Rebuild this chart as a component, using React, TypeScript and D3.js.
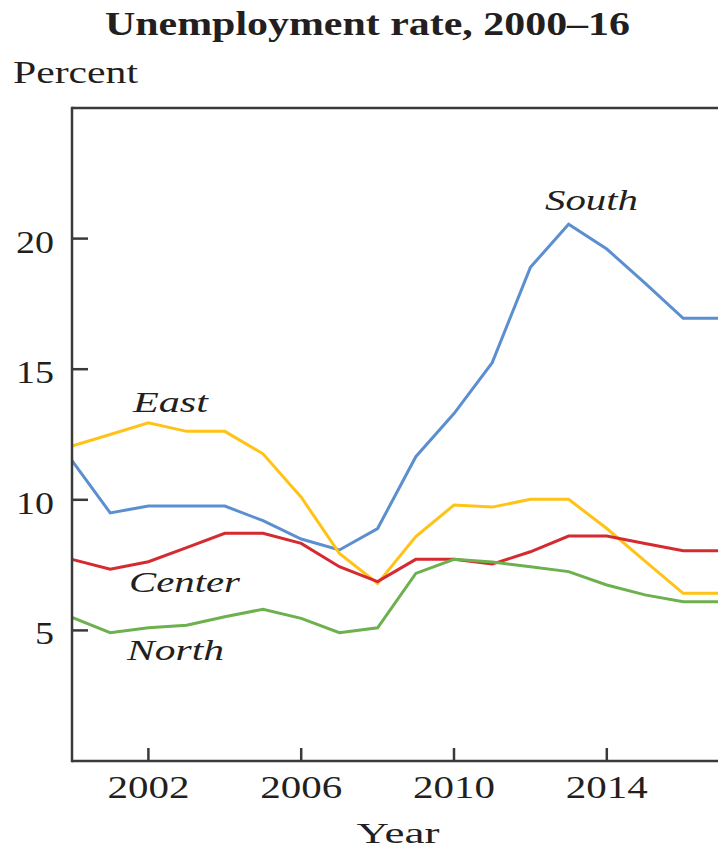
import React from "react";
import * as d3 from "d3";

const years = [2000, 2001, 2002, 2003, 2004, 2005, 2006, 2007, 2008, 2009, 2010, 2011, 2012, 2013, 2014, 2015, 2016, 2017];
const south = [11.5, 9.5, 9.76, 9.76, 9.76, 9.2, 8.5, 8.08, 8.9, 11.65, 13.3, 15.25, 18.9, 20.55, 19.6, 18.3, 16.95, 16.95];
const east = [12.06, 12.5, 12.95, 12.62, 12.62, 11.76, 10.1, 7.95, 6.8, 8.59, 9.8, 9.72, 10.02, 10.02, 8.9, 7.65, 6.42, 6.42];
const center = [7.72, 7.34, 7.63, 8.17, 8.72, 8.72, 8.33, 7.44, 6.87, 7.72, 7.72, 7.54, 8.01, 8.61, 8.61, 8.33, 8.05, 8.05];
const north = [5.5, 4.91, 5.1, 5.2, 5.52, 5.81, 5.46, 4.91, 5.1, 7.18, 7.72, 7.62, 7.44, 7.25, 6.74, 6.36, 6.1, 6.1];

const seriesNames = ["South", "East", "Center", "North"];
const seriesValues = [south, east, center, north];
const seriesColors = ["#5b8fd0", "#ffc317", "#d42a30", "#6db04e"];

const yTicks = [5, 10, 15, 20];
const xTicks = [2002, 2006, 2010, 2014];

const W = 718;
const H = 848;
const left = 72;
const top = 108;
const bottom = 761;

const x = d3.scaleLinear().domain([2000, 2017]).range([left, left + 17 * 38.2]);
const y = d3.scaleLinear().domain([0, 25]).range([bottom, top]);

const ink = "#231f20";
const axisColor = "#3a3a3a";
const serif = "Liberation Serif, Times New Roman, Times, serif";

const labelPos: Record<string, { x: number; y: number; w: number }> = {
  South: { x: 591.5, y: 210, w: 93 },
  East: { x: 170.5, y: 412, w: 75 },
  Center: { x: 184.5, y: 592, w: 111 },
  North: { x: 175.5, y: 660, w: 97 },
};

export default function App() {
  const line = d3
    .line<number>()
    .x((_, i) => x(years[i]))
    .y((v) => y(v));

  return (
    <svg
      width={W}
      height={H}
      style={{ position: "absolute", left: 0, top: 0, background: "#fff", fontFamily: serif }}
    >
      <text x={367.5} y={35} textAnchor="middle" fontSize={34} fontWeight="bold" fill={ink} textLength={525} lengthAdjust="spacingAndGlyphs">
        Unemployment rate, 2000–16
      </text>
      <text x={13} y={83} fontSize={31} fill={ink} textLength={125} lengthAdjust="spacingAndGlyphs">
        Percent
      </text>

      {seriesValues.map((vals, i) => (
        <path key={seriesNames[i]} d={line(vals) || ""} fill="none" stroke={seriesColors[i]} strokeWidth={3} strokeLinejoin="miter" />
      ))}

      {/* frame */}
      <line x1={left} x2={W} y1={top} y2={top} stroke={axisColor} strokeWidth={2.5} />
      <line x1={left} x2={left} y1={top - 1.25} y2={bottom + 1.25} stroke={axisColor} strokeWidth={2.5} />
      <line x1={left} x2={W} y1={bottom} y2={bottom} stroke={axisColor} strokeWidth={2.5} />

      {yTicks.map((t) => (
        <g key={"y" + t}>
          <line x1={left} x2={left + 16} y1={y(t)} y2={y(t)} stroke={axisColor} strokeWidth={2.5} />
          <text x={54} y={y(t) + 14} textAnchor="end" fontSize={32} fill={ink} textLength={String(t).length * 19} lengthAdjust="spacingAndGlyphs">
            {t}
          </text>
        </g>
      ))}

      {xTicks.map((t) => (
        <g key={"x" + t}>
          <line x1={x(t)} x2={x(t)} y1={bottom} y2={bottom - 13} stroke={axisColor} strokeWidth={2.5} />
          <text x={x(t)} y={798} textAnchor="middle" fontSize={31} fill={ink} textLength={82} lengthAdjust="spacingAndGlyphs">
            {t}
          </text>
        </g>
      ))}

      <text x={398} y={843} textAnchor="middle" fontSize={29} fill={ink} textLength={83} lengthAdjust="spacingAndGlyphs">
        Year
      </text>

      {seriesNames.map((n) => (
        <text key={"l" + n} x={labelPos[n].x} y={labelPos[n].y} textAnchor="middle" fontSize={30} fontStyle="italic" fill={ink} textLength={labelPos[n].w} lengthAdjust="spacingAndGlyphs">
          {n}
        </text>
      ))}
    </svg>
  );
}
